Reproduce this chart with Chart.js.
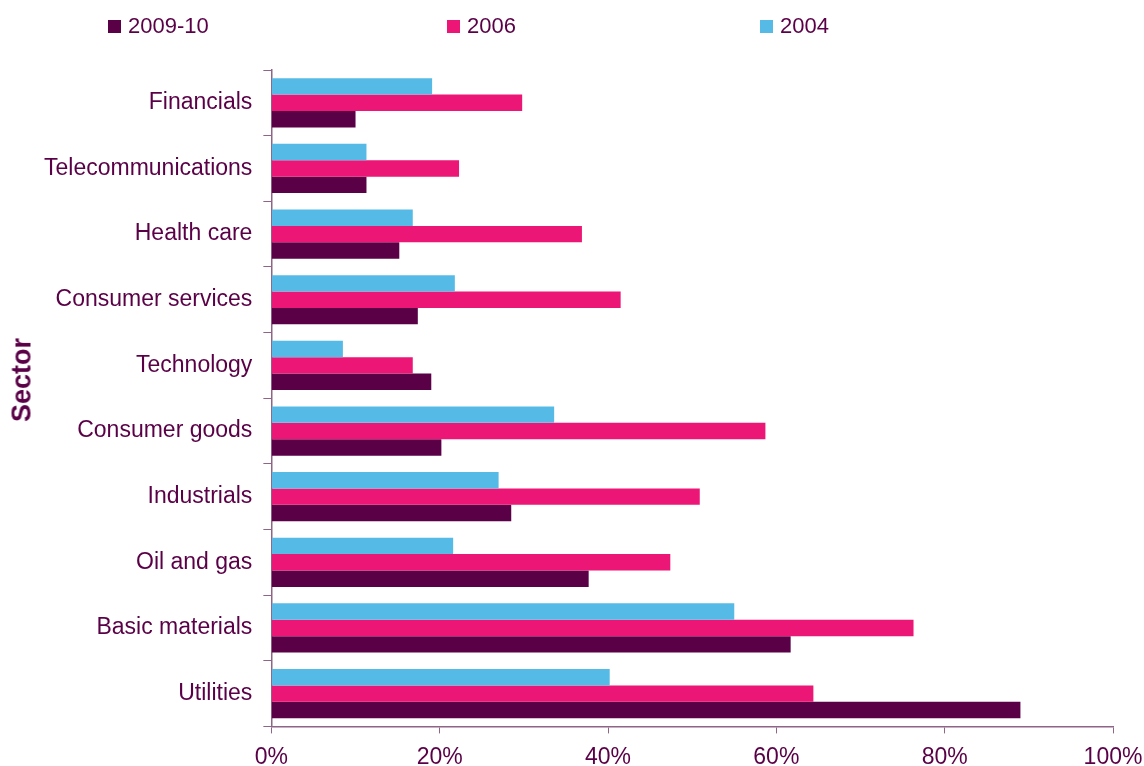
<!DOCTYPE html>
<html>
<head>
<meta charset="utf-8">
<script src="https://cdn.jsdelivr.net/npm/chart.js@4.4.1/dist/chart.umd.min.js"></script>
<style>
  html, body { margin: 0; padding: 0; background: #fff; overflow: hidden; }
  #wrap { position: relative; width: 1144px; height: 766px; }
  #legend { position: absolute; top: 13px; left: 0; width: 1144px; height: 30px;
    font-family: 'Liberation Sans', Arial, sans-serif; font-size: 22px; color: #5a0047; }
  .item { position: absolute; top: 0; display: flex; align-items: center; }
  .box { width: 13px; height: 13px; margin-right: 7px; }
  #ytitle { position: absolute; left: 22px; top: 380px; transform: translate(-50%, -50%) rotate(-90deg);
    font-family: 'Liberation Sans', Arial, sans-serif; font-size: 27px; font-weight: bold;
    color: #5a0047; white-space: nowrap; }
</style>
</head>
<body>
<div id="wrap">
  <div id="legend"></div>
  <div id="ytitle">Sector</div>
  <canvas id="sectorChart" width="1144" height="766"></canvas>
</div>
<script>
const sectors = ['Financials', 'Telecommunications', 'Health care', 'Consumer services', 'Technology',
  'Consumer goods', 'Industrials', 'Oil and gas', 'Basic materials', 'Utilities']

const share2004 = [19.1, 11.3, 16.8, 21.8, 8.5, 33.6, 27.0, 21.6, 55.0, 40.2]
const share2006 = [29.8, 22.3, 36.9, 41.5, 16.8, 58.7, 50.9, 47.4, 76.3, 64.4]
const share2009 = [10.0, 11.3, 15.2, 17.4, 19.0, 20.2, 28.5, 37.7, 61.7, 89.0]

const xTicks = [0, 20, 40, 60, 80, 100]

const textColor = '#5a0047'
const axisColor = '#8e6487'
const font = { family: "'Liberation Sans', Arial, sans-serif", size: 23 }

const datasets = [
  { label: '2004', data: share2004, backgroundColor: '#55bbe6' },
  { label: '2006', data: share2006, backgroundColor: '#ec1677' },
  { label: '2009-10', data: share2009, backgroundColor: '#5a0047' },
]

// legend runs the other way round from the bar order, spaced wide across the top
const legendX = { '2009-10': 108, '2006': 447, '2004': 760 }
const legend = document.getElementById('legend')
datasets.slice().reverse().forEach((ds) => {
  const item = document.createElement('div')
  item.className = 'item'
  item.style.left = legendX[ds.label] + 'px'
  item.innerHTML = `<span class="box" style="background:${ds.backgroundColor}"></span><span>${ds.label}</span>`
  legend.appendChild(item)
})

const ctx = document.getElementById('sectorChart').getContext('2d')
new Chart(ctx, {
  type: 'bar',
  data: {
    labels: sectors,
    datasets: datasets.map((ds) => ({ ...ds, barPercentage: 1, categoryPercentage: 0.75 })),
  },
  options: {
    indexAxis: 'y',
    responsive: false,
    animation: false,
    layout: { autoPadding: false, padding: { top: 70, right: 31, left: 33, bottom: -15 } },
    plugins: {
      legend: { display: false },
      tooltip: { enabled: false },
    },
    scales: {
      x: {
        min: 0,
        max: 100,
        afterBuildTicks: (axis) => {
          axis.ticks = xTicks.map((v) => ({ value: v }))
        },
        // let the 100% label hang past the axis end
        afterFit: (axis) => {
          axis.paddingRight = 0
        },
        ticks: {
          color: textColor,
          font: font,
          padding: 10,
          maxRotation: 0,
          callback: (value) => value + '%',
        },
        grid: { drawOnChartArea: false, drawTicks: true, tickLength: 7, color: axisColor },
        border: { color: axisColor, width: 1.5 },
      },
      y: {
        ticks: { color: textColor, font: font, padding: 11 },
        grid: { offset: true, drawOnChartArea: false, drawTicks: true, tickLength: 8, color: axisColor },
        border: { color: axisColor, width: 1.5 },
      },
    },
  },
})
</script>
</body>
</html>
